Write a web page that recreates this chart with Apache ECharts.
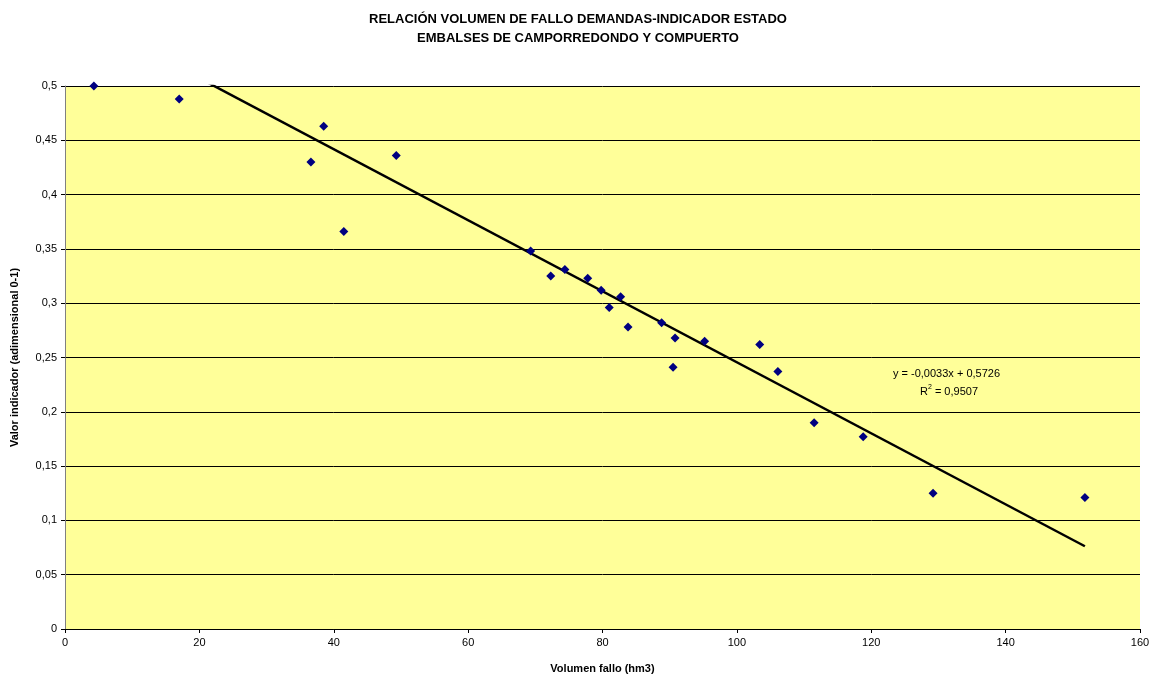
<!DOCTYPE html>
<html><head><meta charset="utf-8">
<script src="https://cdn.jsdelivr.net/npm/echarts@6/dist/echarts.min.js"></script>
<style>html,body{margin:0;padding:0;background:#fff}#c{width:1156px;height:679px}</style>
</head><body><div id="c"></div>
<script>
var volumenFallo = [4.3,17.0,36.6,38.5,41.5,49.3,69.3,72.3,74.4,77.8,79.8,81.0,82.7,83.8,88.8,90.5,90.8,95.2,103.4,106.1,111.5,118.8,129.2,151.8];
var valorIndicador = [0.500,0.488,0.430,0.463,0.366,0.436,0.348,0.325,0.331,0.323,0.312,0.296,0.306,0.278,0.282,0.241,0.268,0.265,0.262,0.237,0.190,0.177,0.125,0.121];
// trendline as drawn in the picture (label shows rounded values)
var trendSlope = -0.00327;
var trendIntercept = 0.5726;
var eqLabel = 'y = -0,0033x + 0,5726';
var r2Value = '0,9507';
var titleLines = ['RELACIÓN VOLUMEN DE FALLO DEMANDAS-INDICADOR ESTADO','EMBALSES DE CAMPORREDONDO Y COMPUERTO'];

var xMin = Math.min.apply(null, volumenFallo), xMax = Math.max.apply(null, volumenFallo);
var trend = [[xMin, trendIntercept+trendSlope*xMin],[xMax, trendIntercept+trendSlope*xMax]];

var pts = volumenFallo.map(function(x,i){return [x, valorIndicador[i]];});
var font = '"Liberation Sans", Arial, sans-serif';
var chart = echarts.init(document.getElementById('c'), null, {renderer:'canvas'});
chart.setOption({
  animation:false,
  backgroundColor:'#ffffff',
  title:{text:titleLines.join('\n'), left:'center', top:5,
    textStyle:{fontFamily:font, fontSize:13, fontWeight:'bold', color:'#000', lineHeight:19}},
  grid:{left:65, right:16, top:86, bottom:50, show:true, backgroundColor:'#FFFF99', borderWidth:0},
  xAxis:{type:'value', min:0, max:160, interval:20,
    name:'Volumen fallo (hm3)', nameLocation:'middle', nameGap:34,
    nameTextStyle:{fontFamily:font, fontSize:11, fontWeight:'bold', color:'#000'},
    axisLine:{show:true, onZero:false, lineStyle:{color:'#000', width:1}},
    axisTick:{show:true, inside:false, length:4, lineStyle:{color:'#000'}},
    axisLabel:{fontFamily:font, fontSize:11, color:'#000', margin:8},
    splitLine:{show:false}},
  yAxis:{type:'value', min:0, max:0.5, interval:0.05,
    name:'Valor indicador (adimensional 0-1)', nameLocation:'middle', nameGap:45,
    nameTextStyle:{fontFamily:font, fontSize:11, fontWeight:'bold', color:'#000'},
    axisLine:{show:true, lineStyle:{color:'#808080', width:1}},
    axisTick:{show:true, length:4, lineStyle:{color:'#000'}},
    axisLabel:{fontFamily:font, fontSize:11, color:'#000', margin:8,
      formatter:function(v){return String(Math.round(v*100)/100).replace('.',',');}},
    splitLine:{show:true, lineStyle:{color:'#000', width:1}}},
  series:[
    {type:'line', data:trend, showSymbol:false, symbol:'none', clip:true,
     lineStyle:{color:'#000', width:2.5}, z:2, silent:true},
    {type:'scatter', data:pts, symbol:'diamond', symbolSize:9,
     itemStyle:{color:'#000080', opacity:1}, z:3}
  ],
  graphic:[
    {type:'text', left:893, top:368, style:{text:eqLabel, font:'11px '+font, fill:'#000'}},
    {type:'text', left:920, top:384, style:{text:'{a|R}{s|2}{a| = '+r2Value+'}', font:'11px '+font, fill:'#000',
      rich:{a:{fontFamily:font, fontSize:11, fill:'#000', verticalAlign:'bottom'}, s:{fontFamily:font, fontSize:7, verticalAlign:'top', padding:[0,0,6,0]}}}}
  ]
});
</script></body></html>
